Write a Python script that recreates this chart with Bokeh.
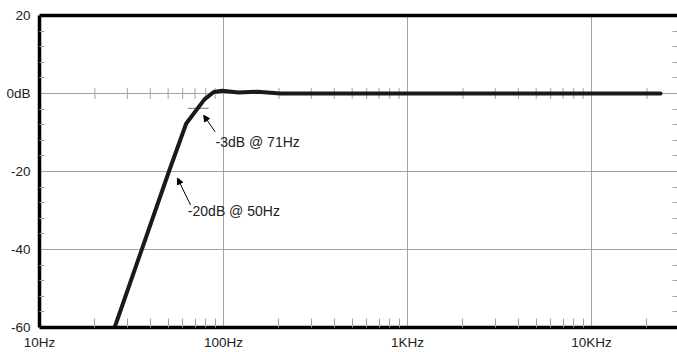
import numpy as np
from bokeh.plotting import figure
from bokeh.models import FixedTicker, LinearAxis, LogAxis, Arrow, NormalHead, Label
from bokeh.embed import file_html
from bokeh.resources import INLINE

# ---- data ----
freq_hz = [25.6, 50.5, 62.7, 78.8, 88.5, 98.4, 120.6, 153, 204, 1000, 23700]
level_db = [-60, -20, -7.7, -1.5, 0.4, 0.7, 0.25, 0.45, 0.0, 0.0, 0.0]

x_major = [10, 100, 1000, 10000]
x_labels = ["10Hz", "100Hz", "1KHz", "10KHz"]
x_minor = [20, 30, 40, 50, 60, 70, 80, 90,
           200, 300, 400, 500, 600, 700, 800, 900,
           2000, 3000, 4000, 5000, 6000, 7000, 8000, 9000, 20000]
x_grid = [100, 1000, 10000]

y_major = [20, 0, -20, -40, -60]
y_labels = ["20", "0dB", "-20", "-40", "-60"]
y_minor = [16, 12, 8, 4, -4, -8, -12, -16, -24, -28, -32, -36,
           -44, -48, -52, -56]
y_grid = [0, -20, -40]

# -3 dB marker (short horizontal bar)
marker_f = [64, 83]
marker_db = [-3.8, -3.8]

# annotations
ann_text = ["-3dB @ 71Hz", "-20dB @ 50Hz"]
ann_f = [90.5, 64.0]
ann_db = [-12.5, -30.0]
arrow_f0 = [90.0, 66.2]
arrow_db0 = [-9.8, -28.6]
arrow_f1 = [78.0, 56.2]
arrow_db1 = [-5.6, -21.7]

GRID = "#a3a3a3"
TXT = "#222222"
FONT = "Liberation Sans"

p = figure(width=677, height=352, x_axis_type="log",
           x_range=(10, 29300), y_range=(-60, 20),
           output_backend="svg", toolbar_location=None,
           min_border_left=39, min_border_right=0,
           min_border_top=15, min_border_bottom=24)
p.outline_line_color = None
p.background_fill_color = "white"

# grids
p.xgrid.ticker = FixedTicker(ticks=x_grid)
p.ygrid.ticker = FixedTicker(ticks=y_grid)
for g in (p.xgrid, p.ygrid):
    g.grid_line_color = GRID
    g.grid_line_width = 1

# bottom axis
xa = p.xaxis[0]
xa.ticker = FixedTicker(ticks=x_major, minor_ticks=x_minor)
xa.major_label_overrides = {t: l for t, l in zip(x_major, x_labels)}
xa.major_tick_in = 0
xa.major_tick_out = 0
xa.minor_tick_in = 9
xa.minor_tick_out = 0
xa.minor_tick_line_color = GRID
xa.axis_line_width = 3.5
xa.axis_line_color = "black"
xa.major_label_standoff = 7
xa.major_label_text_font = FONT
xa.major_label_text_font_size = "13.5px"
xa.major_label_text_color = TXT

# left axis
ya = p.yaxis[0]
ya.ticker = FixedTicker(ticks=y_major, minor_ticks=y_minor)
ya.major_label_overrides = {t: l for t, l in zip(y_major, y_labels)}
ya.major_tick_in = 0
ya.major_tick_out = 0
ya.minor_tick_in = 5
ya.minor_tick_out = 0
ya.minor_tick_line_color = GRID
ya.axis_line_width = 3.5
ya.axis_line_color = "black"
ya.major_label_standoff = 9
ya.major_label_text_font = FONT
ya.major_label_text_font_size = "13.5px"
ya.major_label_text_color = TXT

# right axis: minor ticks only
ra = LinearAxis(ticker=FixedTicker(ticks=[], minor_ticks=y_minor))
ra.major_tick_in = 0
ra.major_tick_out = 0
ra.minor_tick_in = 5
ra.minor_tick_out = 0
ra.minor_tick_line_color = GRID
ra.axis_line_color = None
ra.major_label_standoff = 0
ra.major_label_text_font_size = "0px"
p.add_layout(ra, "right")

# top border as a bare axis line
ta = LogAxis(ticker=FixedTicker(ticks=[]))
ta.major_tick_in = 0
ta.major_tick_out = 0
ta.minor_tick_in = 0
ta.minor_tick_out = 0
ta.axis_line_width = 3.5
ta.axis_line_color = "black"
ta.major_label_standoff = 0
ta.major_label_text_font_size = "0px"
p.add_layout(ta, "above")

# crossing ticks on the 0 dB line
p.scatter(x=x_minor, y=[0] * len(x_minor), marker="dash", angle=np.pi / 2,
          size=11, line_color=GRID, line_width=1)

# -3 dB marker
p.line(marker_f, marker_db, line_color="#777777", line_width=1)

# response curve
p.line(freq_hz, level_db, line_color="#1a1a1a", line_width=4,
       line_join="round", line_cap="round")

# annotations
for t, fx, fy in zip(ann_text, ann_f, ann_db):
    p.add_layout(Label(x=fx, y=fy, text=t, text_align="left",
                       text_baseline="middle", text_font=FONT,
                       text_font_size="14px", text_color=TXT))
for a0, b0, a1, b1 in zip(arrow_f0, arrow_db0, arrow_f1, arrow_db1):
    p.add_layout(Arrow(end=NormalHead(size=6, fill_color="black", line_color="black"),
                       x_start=a0, y_start=b0, x_end=a1, y_end=b1,
                       line_color="black", line_width=1))

open("out.html", "w").write(file_html(p, INLINE))
